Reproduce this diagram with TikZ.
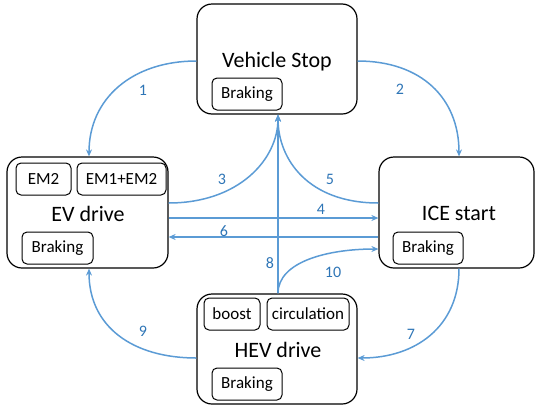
\documentclass[tikz,border=0pt]{standalone}
\usepackage{fontspec}
\setmainfont{Carlito}
\usetikzlibrary{arrows.meta,calc}
\definecolor{lineblue}{RGB}{91,155,213}
\definecolor{lblblue}{RGB}{46,117,182}
\tikzset{
  statebox/.style={draw=black, line width=1.2pt, rounded corners=15pt, inner sep=0pt},
  subbox/.style={draw=black, line width=1pt, rounded corners=5pt, inner sep=0pt, minimum height=32pt, font=\fontsize{17}{20}\selectfont},
  title/.style={font=\fontsize{22}{26}\selectfont, inner sep=0pt},
  lbl/.style={text=lblblue, font=\fontsize{16}{19}\selectfont, inner sep=0pt},
  conn/.style={draw=lineblue, line width=1.5pt, -{Stealth[length=7pt,width=6pt]}},
}
\begin{document}
\begin{tikzpicture}[x=1pt,y=-1pt]
\useasboundingbox (0,0) rectangle (535,410);
% main state boxes
\node[statebox, minimum width=160pt, minimum height=110pt] (vs) at (277,59) {};
\node[statebox, minimum width=161pt, minimum height=111pt] (ev) at (87.5,212.5) {};
\node[statebox, minimum width=155pt, minimum height=111pt] (ice) at (456.5,212.5) {};
\node[statebox, minimum width=160pt, minimum height=110pt] (hev) at (277,349) {};
% titles
\node[title] (vst) at (277,62) {Vehicle Stop};
\node[title] (evt) at (88,214) {EV drive};
\node[title] (icet) at (459,213) {ICE start};
\node[title] (hevt) at (278,350) {HEV drive};
% sub boxes
\node[subbox, minimum width=70pt] (vsb) at (247,94) {Braking};
\node[subbox, minimum width=55pt] (em2) at (43.5,179) {EM2};
\node[subbox, minimum width=89pt] (em12) at (121.5,179) {EM1+EM2};
\node[subbox, minimum width=71pt] (evb) at (57.5,248) {Braking};
\node[subbox, minimum width=70pt] (iceb) at (428,248) {Braking};
\node[subbox, minimum width=56pt] (boost) at (232,314) {boost};
\node[subbox, minimum width=82pt] (circ) at (308,314) {circulation};
\node[subbox, minimum width=70pt] (hevb) at (247,384) {Braking};
% connectors
\draw[conn] ($(vs.west)+(0,2)$) .. controls +(-64,0) and +(0,-58) .. ($(ev.north)+(1.5,0)$);
\draw[conn] ($(vs.east)+(0,2)$) .. controls +(64,0) and +(0,-58) .. ($(ice.north)+(2.5,0)$);
\draw[conn] ($(ev.east)+(0,-9.5)$) .. controls +(70,0) and +(0,45) .. ($(vs.south)+(1,0)$);
\draw[conn] ($(ice.west)+(0,-9.5)$) .. controls +(-70,0) and +(0,45) .. ($(vs.south)+(1,0)$);
\draw[conn] ($(ev.east)+(0,5.5)$) -- ($(ice.west)+(0,5.5)$);
\draw[conn] ($(ice.west)+(0,24.5)$) -- ($(ev.east)+(0,24.5)$);
\draw[conn] ($(hev.north)+(1,0)$) -- ($(vs.south)+(1,0)$);
\draw[conn] ($(hev.north)+(1,0)$) .. controls +(0,-32) and +(-50,0) .. ($(ice.west)+(0,36.5)$);
\draw[conn] ($(ice.south)+(2.5,0)$) .. controls +(0,58) and +(58,0) .. ($(hev.east)+(0,9)$);
\draw[conn] ($(hev.west)+(0,9)$) .. controls +(-64,0) and +(0,58) .. ($(ev.south)+(1.5,0)$);
% labels
\node[lbl] (l1) at (143,90) {1};
\node[lbl] (l2) at (400,89) {2};
\node[lbl] (l3) at (222,179) {3};
\node[lbl] (l4) at (321,209) {4};
\node[lbl] (l5) at (330,179) {5};
\node[lbl] (l6) at (224,231) {6};
\node[lbl] (l7) at (411,334) {7};
\node[lbl] (l8) at (270,263) {8};
\node[lbl] (l9) at (143,331) {9};
\node[lbl] (l10) at (333,272) {10};
\end{tikzpicture}
\end{document}
